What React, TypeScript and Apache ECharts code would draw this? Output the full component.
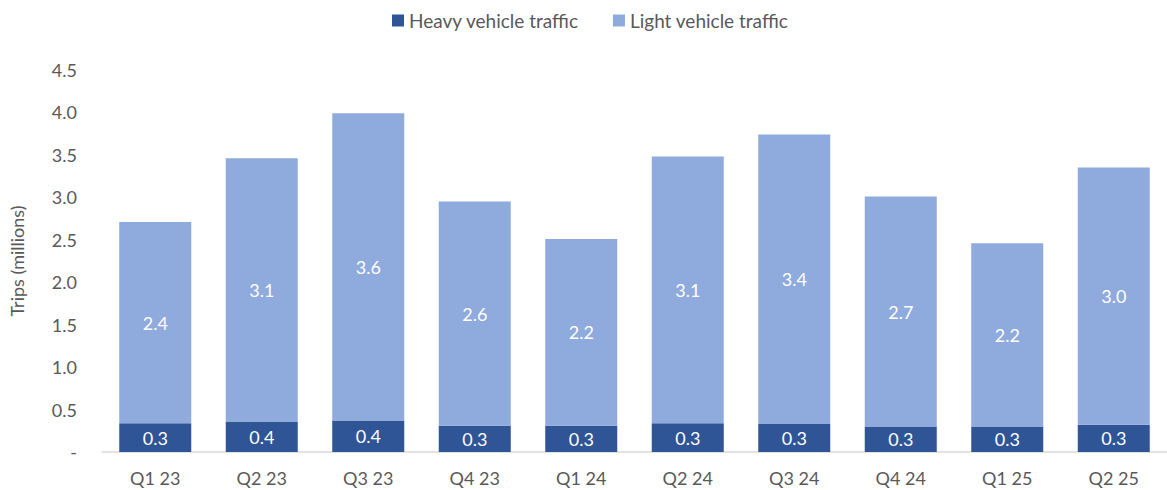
import React, { useEffect, useRef } from "react";
import * as echarts from "echarts";

const categories = ["Q1 23", "Q2 23", "Q3 23", "Q4 23", "Q1 24", "Q2 24", "Q3 24", "Q4 24", "Q1 25", "Q2 25"];
const heavyTraffic = [0.34, 0.36, 0.37, 0.31, 0.31, 0.34, 0.33, 0.30, 0.30, 0.32];
const lightTraffic = [2.37, 3.10, 3.62, 2.64, 2.20, 3.14, 3.41, 2.71, 2.16, 3.03];
const yTicks = { min: 0, max: 4.5, interval: 0.5 };

const FONT = "Lato, 'Open Sans', sans-serif";
const GREY = "#595959";

export default function App() {
  const ref = useRef<HTMLDivElement>(null);
  useEffect(() => {
    if (!ref.current) return;
    const chart = echarts.init(ref.current, null, { renderer: "svg" });
    const label = {
      show: true,
      position: "inside",
      color: "#ffffff",
      fontFamily: FONT,
      fontSize: 18,
      formatter: (p: any) => Number(p.value).toFixed(1),
    };
    chart.setOption({
      animation: false,
      textStyle: { fontFamily: FONT },
      legend: {
        top: 6,
        left: 387,
        itemWidth: 12,
        itemHeight: 12,
        itemGap: 34,
        icon: "rect",
        textStyle: { color: GREY, fontSize: 19, fontFamily: FONT, padding: [0, 0, 0, 0] },
        data: ["Heavy vehicle traffic", "Light vehicle traffic"],
      },
      grid: { left: 95, top: 70, width: 1076, height: 382, containLabel: false },
      xAxis: {
        type: "category",
        data: categories,
        axisLine: { lineStyle: { color: "#D9D9D9", width: 1.5 } },
        axisTick: { show: false },
        axisLabel: { color: GREY, fontSize: 18, fontFamily: FONT, margin: 17 },
      },
      yAxis: {
        type: "value",
        min: yTicks.min,
        max: yTicks.max,
        interval: yTicks.interval,
        name: "Trips (millions)",
        nameLocation: "middle",
        nameGap: 76,
        nameTextStyle: { color: GREY, fontSize: 18, fontFamily: FONT },
        splitLine: { show: false },
        axisLine: { show: false },
        axisTick: { show: false },
        axisLabel: {
          color: GREY,
          fontSize: 18,
          fontFamily: FONT,
          margin: 25,
          formatter: (v: number) => (v === 0 ? "-" : v.toFixed(1)),
        },
      },
      series: [
        {
          name: "Heavy vehicle traffic",
          type: "bar",
          stack: "total",
          barWidth: 72,
          data: heavyTraffic,
          itemStyle: { color: "#2F5597" },
          label,
        },
        {
          name: "Light vehicle traffic",
          type: "bar",
          stack: "total",
          barWidth: 72,
          data: lightTraffic,
          itemStyle: { color: "#8FAADC" },
          label,
        },
      ],
    });
    return () => chart.dispose();
  }, []);
  return <div ref={ref} style={{ width: 1167, height: 490, position: "absolute", left: 0, top: 0 }} />;
}
